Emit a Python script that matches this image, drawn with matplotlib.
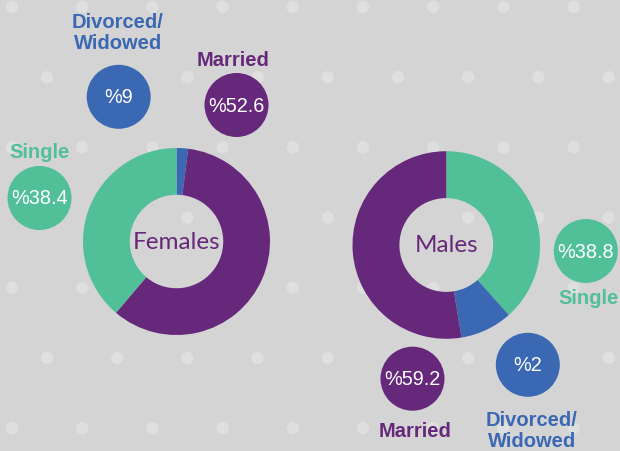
import matplotlib
matplotlib.use("Agg")
import matplotlib.pyplot as plt
from matplotlib.patches import Circle

W, H = 620, 452

# ---- data ----
categories = ["Single", "Divorced/\nWidowed", "Married"]
# bubble labels (as printed in the chart)
female_labels = [38.4, 9, 52.6]
male_labels = [38.8, 2, 59.2]
# donut shares as drawn in the chart (clockwise from 12 o'clock)
female_donut_order = ["Divorced/\nWidowed", "Married", "Single"]
female_donut_values = [2, 59.2, 38.8]
male_donut_order = ["Single", "Divorced/\nWidowed", "Married"]
male_donut_values = [38.4, 9, 52.6]

colors = {"Single": "#51bf98", "Divorced/\nWidowed": "#3a68b3", "Married": "#66287a"}
BG = "#d4d4d4"
DOT = "#dfdfdf"

fig = plt.figure(figsize=(W / 100, H / 100), dpi=100, facecolor=BG)
ax = fig.add_axes([0, 0, 1, 1])
ax.set_facecolor(BG)


def Y(py):
    return H - py


# background dot pattern
row = 0
py = 8.0
while py < H + 10:
    x0 = 12 if row % 2 == 0 else 47
    px = x0
    while px < W + 10:
        ax.add_patch(Circle((px, Y(py)), 6.2, color=DOT, lw=0, zorder=0))
        px += 70.2
    py += 70.2
    row += 1

# donuts
def donut(order, values, cx, cy, r, title):
    ax.pie(values, colors=[colors[c] for c in order], center=(cx, Y(cy)), radius=r,
           startangle=90, counterclock=False,
           wedgeprops=dict(width=r * 0.5, linewidth=0), frame=True)
    ax.text(cx, Y(cy), title, ha="center", va="center", color="#66287a",
            fontsize=17.5, family="Lato", zorder=5)

donut(female_donut_order, female_donut_values, 176.5, 242.5, 93.5, "Females")
donut(male_donut_order, male_donut_values, 446.3, 246, 93.8, "Males")

# bubbles
def bubble(cat, val, cx, cy, lx, ly):
    ax.add_patch(Circle((cx, Y(cy)), 32, color=colors[cat], lw=0, zorder=4))
    ax.text(cx, Y(cy), "%" + f"{val:g}", ha="center", va="center", color="white",
            fontsize=14.3, family="Liberation Sans", zorder=5)
    ax.text(lx, Y(ly), cat, ha="center", va="center", color=colors[cat],
            fontsize=14.5, family="Liberation Sans", fontweight="bold",
            linespacing=1.15, zorder=5)

# females
bubble("Single", female_labels[0], 39.5, 199, 40, 152)
bubble("Divorced/\nWidowed", female_labels[1], 118.7, 97.8, 118, 33)
bubble("Married", female_labels[2], 236.5, 106, 233, 61)
# males
bubble("Single", male_labels[0], 585.8, 252, 589, 299)
bubble("Divorced/\nWidowed", male_labels[1], 527.8, 365.8, 532, 431)
bubble("Married", male_labels[2], 412.5, 379.7, 415, 431.7)

ax.set_xlim(0, W)
ax.set_ylim(0, H)
ax.set_aspect("equal")
ax.axis("off")

fig.savefig("out.png", dpi=100, facecolor=BG)
